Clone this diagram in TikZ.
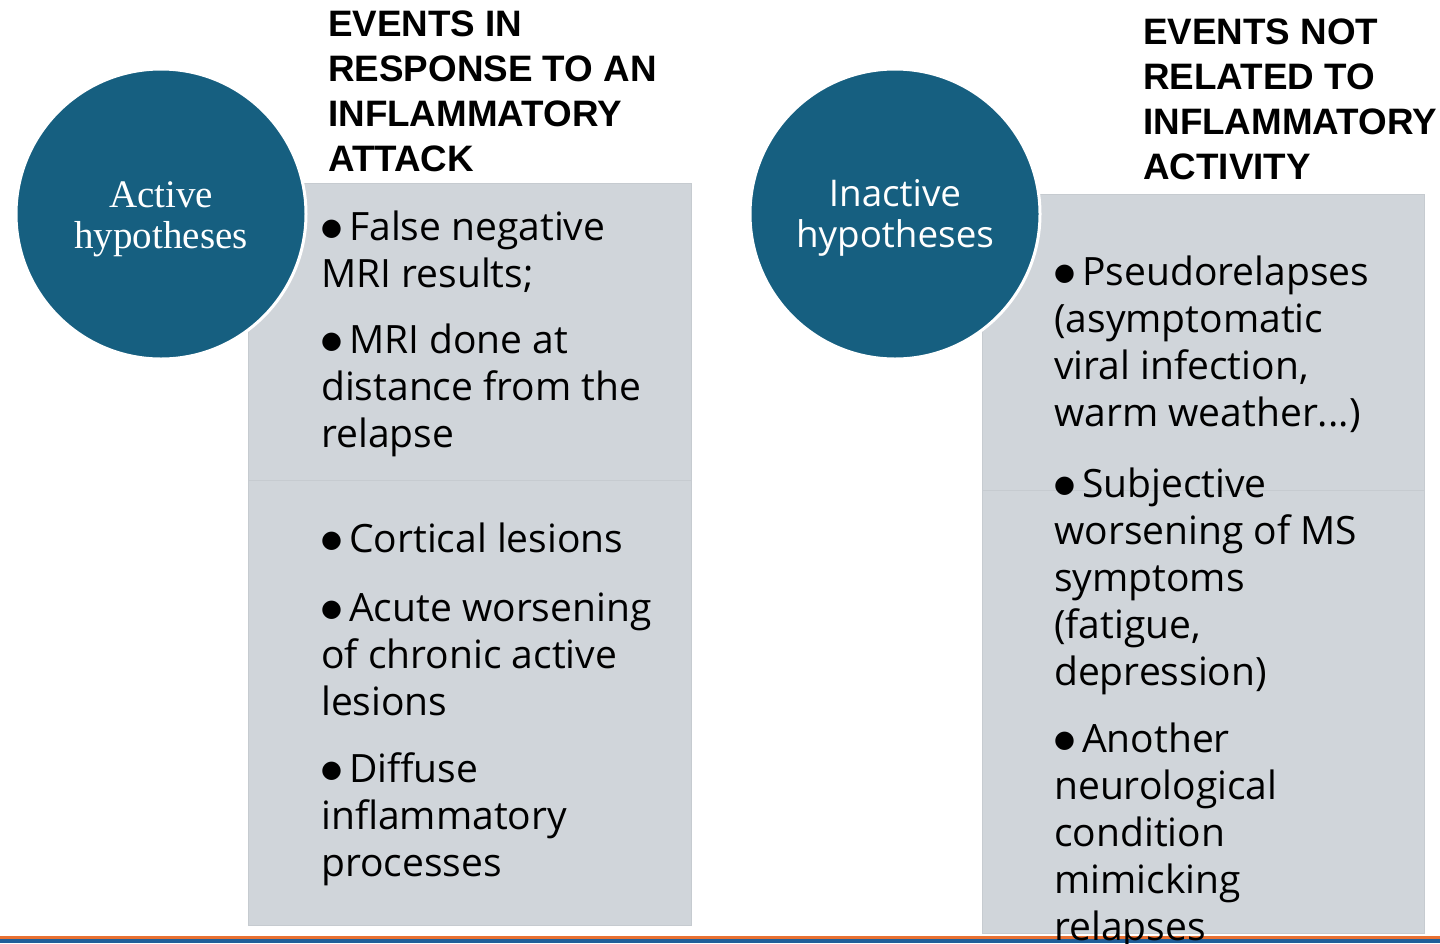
\documentclass[tikz,border=0pt]{standalone}
\usepackage{fontspec}
\setmainfont{Open Sans}
\newfontfamily\headfont{Liberation Sans}
\newfontfamily\seriffont{Liberation Serif}
\newfontfamily\bodyfont{Open Sans}
\newfontfamily\symfont{DejaVu Sans}
\definecolor{hypoteal}{HTML}{165F80}
\definecolor{boxgrey}{HTML}{D0D5DA}
\definecolor{boxedge}{HTML}{C6CBD0}
\definecolor{barorange}{HTML}{E97132}
\definecolor{barblue}{HTML}{215F9A}
\newcommand\bulletmark{\makebox[28pt][l]{\raisebox{5pt}{\symfont\fontsize{24}{24}\selectfont ●}}}
\newcommand\lines[1]{\parbox[t]{420pt}{\raggedright #1}}
\begin{document}
\begin{tikzpicture}[x=1pt,y=-1pt,
  panel/.style={rectangle, anchor=north west, fill=boxgrey, draw=boxedge, line width=1.2pt, inner sep=0pt},
  hypo/.style={circle, fill=hypoteal, draw=white, line width=3pt, minimum size=290pt, inner sep=0pt},
  hypotext/.style={text=white, align=center, inner sep=0pt},
  head/.style={anchor=base west, inner sep=0pt, font=\headfont\bfseries\fontsize{36.8}{45}\selectfont},
  item/.style={anchor=base west, inner sep=0pt, text=black, font=\bodyfont\fontsize{39}{47}\selectfont}]
\useasboundingbox (0,0) rectangle (1440,943);
\fill[white] (0,0) rectangle (1440,943);

% panels
\node[panel, minimum width=443pt, minimum height=447pt] (Lbot) at (248,478) {};
\node[panel, minimum width=443pt, minimum height=297pt] (Ltop) at (248,183) {};
\node[panel, minimum width=442pt, minimum height=455pt] (Rbot) at (982,478) {};
\node[panel, minimum width=442pt, minimum height=296pt] (Rtop) at (982,194) {};

% circles
\node[hypo] (active) at (161,214) {};
\node[hypo] (inactive) at (895,214) {};
\node[hypotext, font=\seriffont\fontsize{39}{41}\selectfont] (activelabel) at (161,219) {Active\\hypotheses};
\node[hypotext, font=\bodyfont\fontsize{36.8}{41}\selectfont] (inactivelabel) at (895,218) {Inactive\\hypotheses};

% headers
\node[head] (headL) at (328,36) {\lines{EVENTS IN\\RESPONSE TO AN\\INFLAMMATORY\\ATTACK}};
\node[head] (headR) at (1143,44) {\lines{EVENTS NOT\\RELATED TO\\INFLAMMATORY\\ACTIVITY}};

% left items
\node[item] (l1) at (321,240) {\lines{\bulletmark False negative\\MRI results;}};
\node[item] (l2) at (321,353) {\lines{\bulletmark MRI done at\\distance from the\\relapse}};
\node[item] (l3) at (321,552) {\lines{\bulletmark Cortical lesions}};
\node[item] (l4) at (321,621) {\lines{\bulletmark Acute worsening\\of chronic active\\lesions}};
\node[item] (l5) at (321,782) {\lines{\bulletmark Diffuse\\inflammatory\\processes}};

% bottom bar
\fill[barorange] (0,935.5) rectangle (1440,938.5);
\fill[barblue] (0,938.5) rectangle (1440,943);

% right items
\node[item] (r1) at (1054,285) {\lines{\bulletmark Pseudorelapses\\(asymptomatic\\viral infection,\\warm weather...)}};
\node[item] (r2) at (1054,497) {\lines{\bulletmark Subjective\\worsening of MS\\symptoms\\(fatigue,\\depression)}};
\node[item] (r3) at (1054,752) {\lines{\bulletmark Another\\neurological\\condition\\mimicking\\relapses}};
\end{tikzpicture}
\end{document}
